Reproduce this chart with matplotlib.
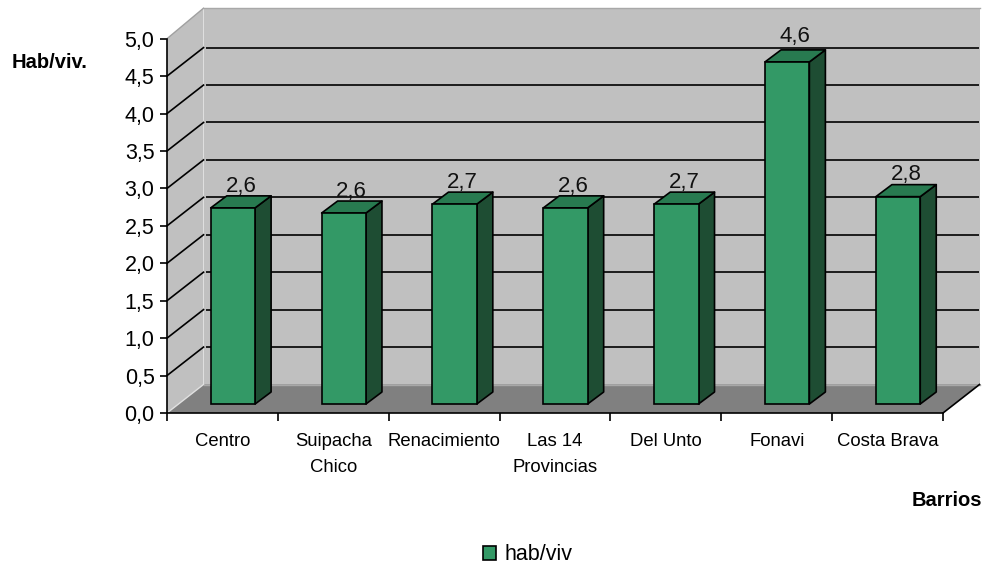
import matplotlib
matplotlib.use("Agg")
import matplotlib.pyplot as plt
from matplotlib.patches import Patch, Polygon

plt.rcParams["font.family"] = ["Liberation Sans", "DejaVu Sans"]

barrios = ["Centro", "Suipacha\nChico", "Renacimiento", "Las 14\nProvincias",
           "Del Unto", "Fonavi", "Costa Brava"]
hab_viv = [2.62, 2.551, 2.67, 2.62, 2.67, 4.57, 2.77]
y_ticks = [0.0, 0.5, 1.0, 1.5, 2.0, 2.5, 3.0, 3.5, 4.0, 4.5, 5.0]

W, H = 983, 565
FACE = "#339966"
SIDE = "#1E4D33"
TOP = "#287A50"
WALL = "#C0C0C0"
FLOOR = "#808080"

fig = plt.figure(figsize=(W / 100, H / 100), dpi=100)
# axes = front plane of the fake 3D box
ax = fig.add_axes([167 / W, 1 - 413 / H, (943 - 167) / W, (413 - 38.7) / H])
ax.set_xlim(0, 7)
ax.set_ylim(0, 5)
ax.patch.set_visible(False)

px = 7 / (943 - 167)     # one pixel in data units, x
py = 5 / (413 - 38.7)    # same for y

# box depth and how far the bars sit inside it
dx, dy = 36.5 * px, 28.5 * py
bar_dx, bar_dy = 16 * px, 12 * py
off_x, off_y = 10.5 * px, 9 * py
top_extra = 2 * py


def poly(pts, color, z, edge="none", lw=0):
    ax.add_patch(Polygon(pts, closed=True, facecolor=color, edgecolor=edge,
                         linewidth=lw, zorder=z, clip_on=False, joinstyle="round"))


# --- walls and floor ---
poly([(dx, dy), (7 + dx, dy), (7 + dx, 5 + dy + top_extra), (dx, 5 + dy + top_extra)], WALL, 1)
poly([(0, 0), (dx, dy), (dx, 5 + dy + top_extra), (0, 5)], WALL, 1)
poly([(0, 0), (7, 0), (7 + dx, dy), (dx, dy)], FLOOR, 2)
ax.plot([0, dx], [5, 5 + dy + top_extra], color="#A0A0A0", lw=1, zorder=2, clip_on=False)
ax.plot([dx, 7 + dx], [5 + dy + top_extra] * 2, color="#A8A8A8", lw=1, zorder=2, clip_on=False)
ax.plot([dx, 7 + dx], [dy, dy], color="#A8A8A8", lw=1, zorder=2, clip_on=False)
ax.plot([0, dx], [0, dy], color="#E0E0E0", lw=1, zorder=2, clip_on=False)
ax.plot([7, 7 + dx], [0, dy], color="black", lw=1.2, zorder=3, clip_on=False)

# --- gridlines, slanted part on the side wall then the back wall ---
for v in y_ticks[1:-1]:
    ax.plot([0, dx], [v, v + dy], color="black", lw=1.2, zorder=3, clip_on=False)
    ax.plot([dx + 2 * px, 7 + dx - px], [v + dy, v + dy], color="black", lw=1.2,
            zorder=3, clip_on=False, solid_capstyle="butt")

# --- bars ---
bar_w = 0.4
xs = [i + 0.5 + off_x for i in range(len(hab_viv))]
ax.bar(xs, hab_viv, width=bar_w, bottom=off_y, color=FACE, edgecolor="black",
       linewidth=1.2, zorder=5, clip_on=False)
for x, v in zip(xs, hab_viv):
    l, r = x - bar_w / 2, x + bar_w / 2
    t = v + off_y
    poly([(r, off_y), (r + bar_dx, off_y + bar_dy), (r + bar_dx, t + bar_dy), (r, t)],
         SIDE, 4, "black", 1.2)
    poly([(l, t), (r, t), (r + bar_dx, t + bar_dy), (l + bar_dx, t + bar_dy)],
         TOP, 4, "black", 1.2)
    # label gap grows a little with bar height in the original
    gap = (4 + (v - 2.6) * 2) * py
    ax.text(x + bar_dx / 2, t + bar_dy + gap, f"{v:.1f}".replace(".", ","),
            ha="center", va="baseline", fontsize=16, color="#111111", zorder=6)

# --- axes ---
for s in ["top", "right"]:
    ax.spines[s].set_visible(False)
for s in ["left", "bottom"]:
    ax.spines[s].set_linewidth(1.2)
    ax.spines[s].set_zorder(7)

ax.set_yticks(y_ticks)
ax.set_yticklabels([f"{v:.1f}".replace(".", ",") for v in y_ticks], fontsize=15.5)
ax.tick_params(axis="y", length=5, width=1.2, pad=4)
ax.set_xticks(range(8))
ax.set_xticklabels([])
ax.tick_params(axis="x", which="major", length=6, width=1.2)
ax.set_xticks([i + 0.5 for i in range(7)], barrios, minor=True, fontsize=13.3, linespacing=1.68)
ax.tick_params(axis="x", which="minor", length=0, pad=14.5)

fig.text(12 / W, 1 - 62 / H, "Hab/viv.", fontsize=14.5, fontweight="bold", ha="left", va="center")
fig.text(982 / W, 1 - 501 / H, "Barrios", fontsize=14.5, fontweight="bold", ha="right", va="center")

handle = Patch(facecolor=FACE, edgecolor="black", linewidth=1.2, label="hab/viv")
fig.legend(handles=[handle], loc="center", bbox_to_anchor=(528 / W, 1 - 555 / H),
           frameon=False, fontsize=15.5, handlelength=0.6, handleheight=0.6,
           handletextpad=0.4, borderpad=0, borderaxespad=0)

fig.savefig("out.png", dpi=100)
